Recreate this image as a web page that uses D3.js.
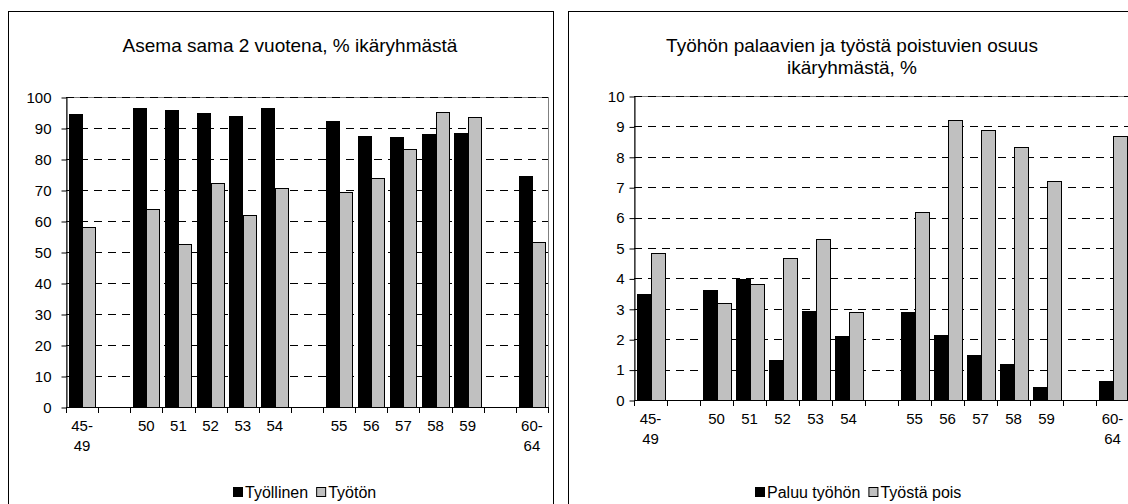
<!DOCTYPE html>
<html><head><meta charset="utf-8">
<script src="https://cdn.jsdelivr.net/npm/d3@7"></script>
<style>
html,body{margin:0;padding:0;background:#fff;}
svg text{font-family:"Liberation Sans",Arial,sans-serif;fill:#000;}
</style></head>
<body>
<svg id="c" width="1128" height="504"></svg>
<script>
// ---- data ----
const categories = ["45-49", "", "50", "51", "52", "53", "54", "", "55", "56", "57", "58", "59", "", "60-64"];
const xLabelLines = [["45-", "49"], [], ["50"], ["51"], ["52"], ["53"], ["54"], [], ["55"], ["56"], ["57"], ["58"], ["59"], [], ["60-", "64"]];

const leftTitle = ["Asema sama 2 vuotena, % ikäryhmästä"];
const leftSeriesNames = ["Työllinen", "Työtön"];
const tyollinen = [94.6, null, 96.4, 95.8, 94.8, 93.8, 96.6, null, 92.2, 87.5, 87.0, 88.0, 88.3, null, 74.5];
const tyoton    = [58.2, null, 64.0, 52.5, 72.4, 62.0, 70.8, null, 69.2, 73.8, 83.3, 95.1, 93.4, null, 53.2];
const leftTicks = [0, 10, 20, 30, 40, 50, 60, 70, 80, 90, 100];

const rightTitle = ["Työhön palaavien ja työstä poistuvien osuus", "ikäryhmästä, %"];
const rightSeriesNames = ["Paluu työhön", "Työstä pois"];
const paluu = [3.48, null, 3.61, 3.98, 1.30, 2.92, 2.12, null, 2.89, 2.13, 1.49, 1.17, 0.43, null, 0.61];
const pois  = [4.85, null, 3.19, 3.82, 4.68, 5.28, 2.89, null, 6.18, 9.21, 8.89, 8.32, 7.21, null, 8.68];
const rightTicks = [0, 1, 2, 3, 4, 5, 6, 7, 8, 9, 10];

const colors = ["#000000", "#c0c0c0"];

const svg = d3.select("#c");

function panel(cfg) {
  const g = svg.append("g");
  // outer frame
  g.append("rect").attr("x", cfg.frame[0] + 0.5).attr("y", cfg.frame[1] + 0.5)
    .attr("width", cfg.frame[2]).attr("height", cfg.frame[3])
    .attr("fill", "#fff").attr("stroke", "#000").attr("stroke-width", 1);

  const x = d3.scaleBand().domain(d3.range(categories.length)).range([cfg.x0, cfg.x1]).paddingInner(0).paddingOuter(0);
  const sub = d3.scaleBand().domain([0, 1]).range([0, x.bandwidth()]).paddingInner(0).paddingOuter(0.2);
  const y = d3.scaleLinear().domain([cfg.ticks[0], cfg.ticks[cfg.ticks.length - 1]]).range([cfg.y0, cfg.y1]);

  // title
  const t = g.append("text").attr("text-anchor", "middle").attr("font-size", cfg.titleSize);
  cfg.title.forEach((line, i) => {
    t.append("tspan").attr("x", cfg.titleX).attr("y", cfg.titleY + i * cfg.titleLH).text(line);
  });

  // plot border
  g.append("rect").attr("x", cfg.x0 + 0.5).attr("y", cfg.y1 + 0.5)
    .attr("width", cfg.x1 - cfg.x0).attr("height", cfg.y0 - cfg.y1)
    .attr("fill", "none").attr("stroke", "#808080");

  // gridlines
  g.append("g").selectAll("line").data(cfg.ticks.slice(1)).join("line")
    .attr("x1", cfg.x0).attr("x2", cfg.x1)
    .attr("y1", d => Math.round(y(d)) + 0.5).attr("y2", d => Math.round(y(d)) + 0.5)
    .attr("stroke", "#000").attr("stroke-dasharray", "8,6");

  // bars
  cfg.series.forEach((vals, si) => {
    g.append("g").selectAll("rect").data(vals.map((v, i) => ({v, i})).filter(d => d.v != null)).join("rect")
      .attr("x", d => Math.round(x(d.i) + sub(si)) + 0.5)
      .attr("y", d => Math.round(y(d.v)) + 0.5)
      .attr("width", Math.round(sub.bandwidth()))
      .attr("height", d => Math.round(y(0)) - Math.round(y(d.v)))
      .attr("fill", colors[si]).attr("stroke", "#000").attr("stroke-width", 1);
  });

  // y axis
  const ya = g.append("g").attr("transform", `translate(${cfg.x0 + 0.5},0.5)`)
    .call(d3.axisLeft(y).tickValues(cfg.ticks).tickSize(5).tickPadding(cfg.yPad).tickSizeOuter(0));
  ya.select(".domain").attr("stroke", "#000");
  ya.selectAll(".tick line").attr("stroke", "#000");
  ya.selectAll(".tick text").attr("font-size", cfg.tickSize).attr("font-family", "Liberation Sans, Arial, sans-serif").attr("fill", "#000");

  // x axis line and boundary ticks
  const xb = g.append("g");
  xb.append("line").attr("x1", cfg.x0).attr("x2", cfg.x1 + 1)
    .attr("y1", Math.round(y(0)) + 0.5).attr("y2", Math.round(y(0)) + 0.5).attr("stroke", "#000");
  const bounds = d3.range(categories.length).map(i => x(i)).concat([cfg.x1]);
  xb.selectAll("line.tk").data(bounds).join("line").attr("class", "tk")
    .attr("x1", d => Math.round(d) + 0.5).attr("x2", d => Math.round(d) + 0.5)
    .attr("y1", Math.round(y(0))).attr("y2", Math.round(y(0)) + 6).attr("stroke", "#000");
  const lab = xb.selectAll("text.xl").data(xLabelLines).join("text").attr("class", "xl")
    .attr("text-anchor", "middle").attr("font-size", cfg.tickSize);
  lab.each(function(lines, i) {
    const el = d3.select(this);
    lines.forEach((ln, k) => {
      el.append("tspan").attr("x", x(i) + x.bandwidth() / 2)
        .attr("y", Math.round(y(0)) + cfg.xLabOff + k * cfg.xLabLH).text(ln);
    });
  });

  // legend (centered)
  const lg = g.append("g");
  let cx = 0;
  cfg.names.forEach((nm, si) => {
    lg.append("rect").attr("x", cx + 0.5).attr("y", cfg.legendY - 10.5).attr("width", 9).attr("height", 9)
      .attr("fill", colors[si]).attr("stroke", "#000");
    const tx = lg.append("text").attr("x", cx + 12).attr("y", cfg.legendY).attr("font-size", cfg.legendSize).text(nm);
    cx += 12 + tx.node().getComputedTextLength() + 8;
  });
  const w = cx - 8;
  lg.attr("transform", `translate(${Math.round(cfg.legendCX - w / 2)},0)`);
}

panel({
  frame: [8, 11, 545, 520],
  x0: 66, x1: 548, y0: 407, y1: 97,
  ticks: leftTicks, series: [tyollinen, tyoton], names: leftSeriesNames,
  title: leftTitle, titleX: 290, titleY: 52, titleLH: 22, titleSize: 19,
  tickSize: 15, yPad: 10, xLabOff: 24, xLabLH: 20,
  legendCX: 305, legendY: 498, legendSize: 16
});

panel({
  frame: [568, 11, 600, 520],
  x0: 634, x1: 1129, y0: 400, y1: 96,
  ticks: rightTicks, series: [paluu, pois], names: rightSeriesNames,
  title: rightTitle, titleX: 852, titleY: 52, titleLH: 22, titleSize: 19,
  tickSize: 15, yPad: 5, xLabOff: 24, xLabLH: 20,
  legendCX: 858, legendY: 498, legendSize: 16
});
</script>
</body></html>
